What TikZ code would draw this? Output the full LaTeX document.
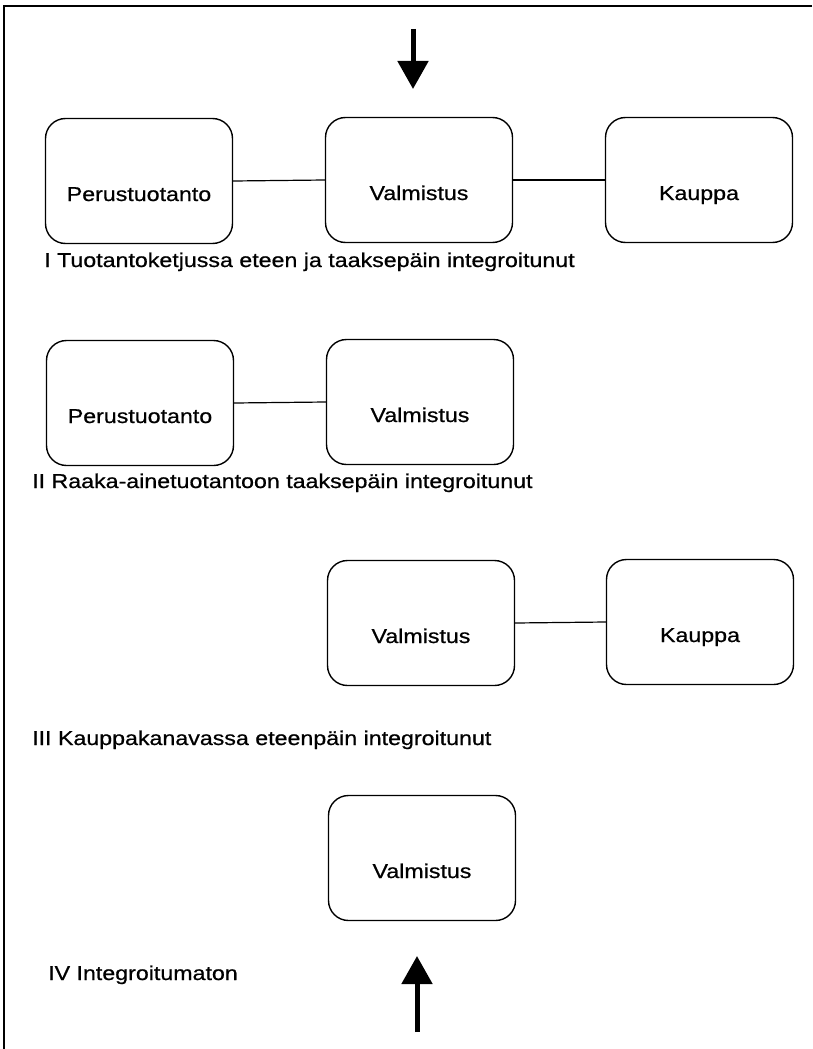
\documentclass[tikz,border=0pt]{standalone}
\usepackage{fontspec}
\setmainfont{Liberation Sans}[FakeStretch=1.16,FakeBold=0.7]
\usetikzlibrary{arrows.meta}
\begin{document}
\begin{tikzpicture}[x=1pt,y=-1pt,
  stage/.style={draw, line width=1.4pt, rounded corners=20pt,
    minimum width=187pt, minimum height=125pt, inner sep=0pt},
  stagetext/.style={anchor=base, inner sep=0pt, font=\fontsize{20}{24}\selectfont},
  caption/.style={anchor=base west, inner sep=0pt, font=\fontsize{20}{24}\selectfont},
  link/.style={line width=1.2pt},
  flow/.style={line width=5pt, -{Triangle[length=28pt,width=30pt]}},
  frame/.style={line width=2pt}]
\useasboundingbox (0,0) rectangle (812,1049);

% open frame: top and left edges only
\draw[frame] (812,6) -- (4,6) -- (4,1049);

% I: integrated both ways
\node[stage] (a1) at (139,181) {};
\node[stage] (a2) at (419,180) {};
\node[stage] (a3) at (699,180) {};
\node[stagetext] (a1t) at ([yshift=-20pt]a1.center) {Perustuotanto};
\node[stagetext] (a2t) at ([yshift=-20pt]a2.center) {Valmistus};
\node[stagetext] (a3t) at ([yshift=-20pt]a3.center) {Kauppa};
\draw[link] (a1.east) -- (a2.west);
\draw[link] (a2.east) -- (a3.west);
\node[caption] (capI) at (44,267) {I Tuotantoketjussa eteen ja taaksepäin integroitunut};

% II: backward integration
\node[stage] (b1) at (140,403) {};
\node[stage] (b2) at (420,402) {};
\node[stagetext] (b1t) at ([yshift=-20pt]b1.center) {Perustuotanto};
\node[stagetext] (b2t) at ([yshift=-20pt]b2.center) {Valmistus};
\draw[link] (b1.east) -- (b2.west);
\node[caption] (capII) at (32,488) {II Raaka-ainetuotantoon taaksepäin integroitunut};

% III: forward integration
\node[stage] (c1) at (421,623) {};
\node[stage] (c2) at (700,622) {};
\node[stagetext] (c1t) at ([yshift=-20pt]c1.center) {Valmistus};
\node[stagetext] (c2t) at ([yshift=-20pt]c2.center) {Kauppa};
\draw[link] (c1.east) -- (c2.west);
\node[caption] (capIII) at (32,745) {III Kauppakanavassa eteenpäin integroitunut};

% IV: not integrated
\node[stage] (d1) at (422,858) {};
\node[stagetext] (d1t) at ([yshift=-20pt]d1.center) {Valmistus};
\node[caption] (capIV) at (48,980) {IV Integroitumaton};

% direction arrows
\coordinate (topIn) at (413,29);
\coordinate (topTip) at (413,89);
\coordinate (botIn) at (417,1032);
\coordinate (botTip) at (417,956);
\draw[flow] (topIn) -- (topTip);
\draw[flow] (botIn) -- (botTip);
\end{tikzpicture}
\end{document}
